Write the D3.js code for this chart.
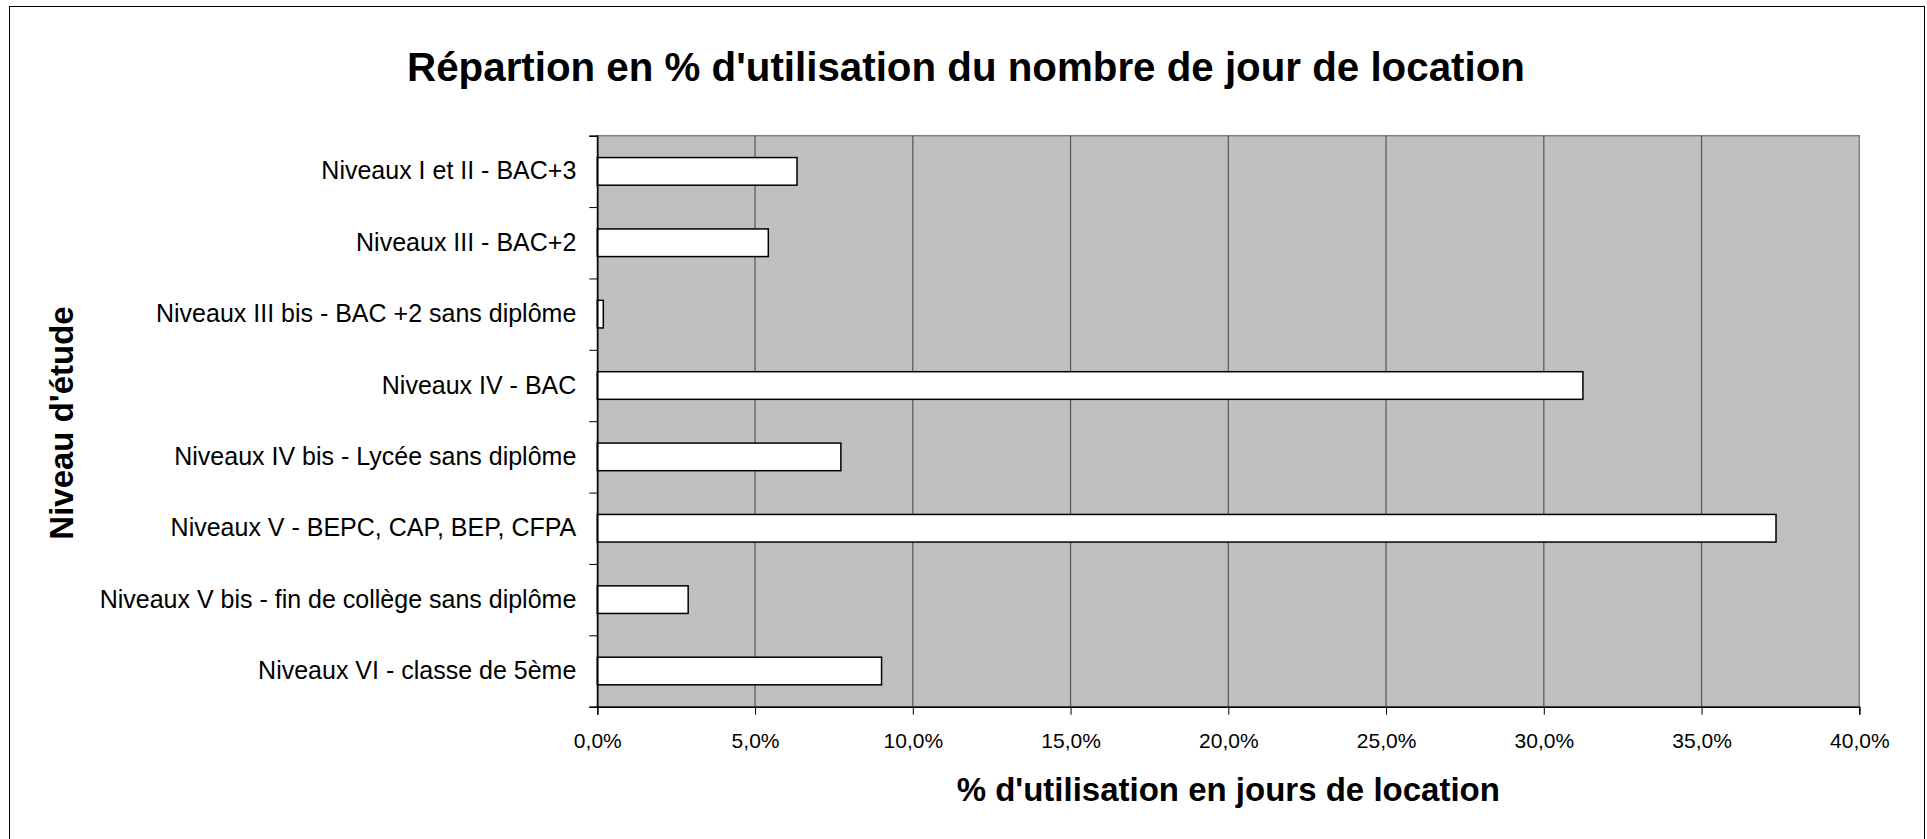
<!DOCTYPE html>
<html>
<head>
<meta charset="utf-8">
<script src="https://cdn.jsdelivr.net/npm/d3@7"></script>
<style>
  body { margin: 0; background: #fff; }
  svg { display: block; font-family: 'Liberation Sans', Arial, sans-serif; }
</style>
</head>
<body>
<script>
const w = 1927;
const h = 839;
const plot = { top: 135.7, left: 597.3, right: 1859.3, bottom: 706.7 };

const niveaux = [
  'Niveaux I et II - BAC+3',
  'Niveaux III - BAC+2',
  'Niveaux III bis - BAC +2 sans diplôme',
  'Niveaux IV - BAC',
  'Niveaux IV bis - Lycée sans diplôme',
  'Niveaux V - BEPC, CAP, BEP, CFPA',
  'Niveaux V bis - fin de collège sans diplôme',
  'Niveaux VI - classe de 5ème'
];
const pourcentages = [6.33, 5.42, 0.19, 31.24, 7.72, 37.36, 2.88, 9.01];
const xTicks = [0, 5, 10, 15, 20, 25, 30, 35, 40];

const data = niveaux.map((n, i) => ({ niveau: n, pct: pourcentages[i] }));

const svg = d3.select('body')
  .append('svg')
  .attr('width', w)
  .attr('height', h);

// outer chart frame
svg.append('rect')
  .attr('x', 9.5)
  .attr('y', 6.5)
  .attr('width', 1915)
  .attr('height', 900)
  .attr('fill', '#fff')
  .attr('stroke', '#000')
  .attr('stroke-width', 1);

const xScale = d3.scaleLinear().domain([0, 40]).range([plot.left, plot.right]);
const yScale = d3.scaleBand()
  .domain(niveaux)
  .range([plot.top, plot.bottom])
  .paddingInner(0.613)
  .paddingOuter(0.3065);
// boundaries between categories, for the tick marks
const yEdges = d3.scaleLinear().domain([0, niveaux.length]).range([plot.top, plot.bottom]);

// plot background
svg.append('rect')
  .attr('x', plot.left)
  .attr('y', plot.top)
  .attr('width', plot.right - plot.left)
  .attr('height', plot.bottom - plot.top)
  .attr('fill', '#c0c0c0')
  .attr('stroke', '#808080')
  .attr('stroke-width', 1.5);

// vertical gridlines
svg.append('g')
  .selectAll('line')
  .data(xTicks.slice(1, -1))
  .enter()
  .append('line')
  .attr('x1', d => xScale(d))
  .attr('x2', d => xScale(d))
  .attr('y1', plot.top)
  .attr('y2', plot.bottom)
  .attr('stroke', '#555')
  .attr('stroke-width', 1.2);

// bars
svg.append('g')
  .selectAll('rect')
  .data(data)
  .enter()
  .append('rect')
  .attr('x', xScale(0))
  .attr('y', d => yScale(d.niveau))
  .attr('width', d => xScale(d.pct) - xScale(0))
  .attr('height', yScale.bandwidth())
  .attr('fill', '#fff')
  .attr('stroke', '#000')
  .attr('stroke-width', 1.5);

// x axis
const xAxis = d3.axisBottom(xScale)
  .tickValues(xTicks)
  .tickSize(8)
  .tickPadding(18)
  .tickFormat(d => d.toFixed(1).replace('.', ',') + '%');
svg.append('g')
  .attr('transform', `translate(0, ${plot.bottom})`)
  .call(xAxis)
  .call(g => g.select('.domain').attr('stroke', '#000').attr('stroke-width', 1.5))
  .call(g => g.selectAll('.tick line').attr('stroke', '#000'))
  .call(g => g.selectAll('.tick text')
    .attr('fill', '#000')
    .style('font-size', '21px')
    .style('font-family', "'Liberation Sans', Arial, sans-serif"));

// y axis: labels centered in bands, ticks at boundaries
svg.append('g')
  .attr('transform', `translate(${plot.left}, 0)`)
  .call(d3.axisLeft(yScale).tickSize(0).tickPadding(21))
  .call(g => g.select('.domain').remove())
  .call(g => g.selectAll('.tick text')
    .attr('fill', '#000')
    .style('font-size', '25px')
    .style('font-family', "'Liberation Sans', Arial, sans-serif"));

svg.append('g')
  .attr('transform', `translate(${plot.left}, 0)`)
  .call(d3.axisLeft(yEdges).ticks(niveaux.length).tickSize(8).tickFormat(''))
  .call(g => g.select('.domain').attr('stroke', '#000').attr('stroke-width', 1.5))
  .call(g => g.selectAll('.tick line').attr('stroke', '#000'));

// titles
svg.append('text')
  .attr('x', 966)
  .attr('y', 81)
  .attr('text-anchor', 'middle')
  .style('font-size', '40.3px')
  .style('font-weight', 'bold')
  .text("Répartion en % d'utilisation du nombre de jour de location");

svg.append('text')
  .attr('x', (plot.left + plot.right) / 2)
  .attr('y', 801)
  .attr('text-anchor', 'middle')
  .style('font-size', '33px')
  .style('font-weight', 'bold')
  .text("% d'utilisation en jours de location");

svg.append('text')
  .attr('transform', 'rotate(-90)')
  .attr('x', -423)
  .attr('y', 73)
  .attr('text-anchor', 'middle')
  .style('font-size', '33px')
  .style('font-weight', 'bold')
  .text("Niveau d'étude");
</script>
</body>
</html>
